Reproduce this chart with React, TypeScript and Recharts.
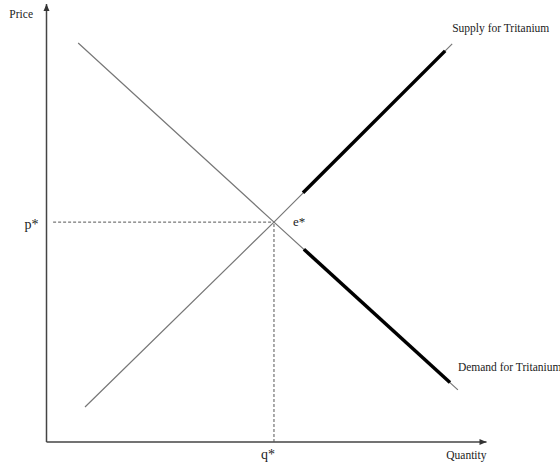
import React from 'react';
import { LineChart, Line, XAxis, YAxis, ReferenceLine, ReferenceDot } from 'recharts';

// demand curve (thin full line + bold part)
const demandQ = [7.2, 51.7, 93.5];
const demandP = [91.1, 50.2, 11.9];
const demandBoldQ = [58.5, 91.7];
const demandBoldP = [44.0, 13.6];

// supply curve
const supplyQ = [8.75, 51.7, 92.2];
const supplyP = [8.0, 50.2, 90.9];
const supplyBoldQ = [58.3, 90.6];
const supplyBoldP = [56.9, 89.3];

// equilibrium
const eqQ = 51.7;
const eqP = 50.2;

const toRows = (q: number[], p: number[]) => q.map((v, i) => ({ q: v, p: p[i] }));

const demand = toRows(demandQ, demandP);
const demandBold = toRows(demandBoldQ, demandBoldP);
const supply = toRows(supplyQ, supplyP);
const supplyBold = toRows(supplyBoldQ, supplyBoldP);

const FONT = '"Liberation Serif", "DejaVu Serif", serif';

const textShape =
  (txt: string, dx: number, dy: number, anchor: 'start' | 'middle' | 'end', size: number) =>
  (props: any) => (
    <text
      x={props.cx + dx}
      y={props.cy + dy}
      textAnchor={anchor}
      fontFamily={FONT}
      fontSize={size}
      fill="#222"
    >
      {txt}
    </text>
  );

const arrowRight = (props: any) => (
  <polygon
    points={`${props.cx},${props.cy} ${props.cx - 7},${props.cy - 3} ${props.cx - 7},${props.cy + 3}`}
    fill="#333"
  />
);

const arrowUp = (props: any) => (
  <polygon
    points={`${props.cx},${props.cy} ${props.cx - 3},${props.cy + 7} ${props.cx + 3},${props.cy + 7}`}
    fill="#333"
  />
);

export default function App() {
  return (
    <div style={{ position: 'absolute', left: 0, top: 0, background: '#fff' }}>
      <LineChart width={560} height={463} margin={{ top: 4, right: 73.5, bottom: 21, left: 46.5 }}>
        <XAxis type="number" dataKey="q" domain={[0, 100]} hide />
        <YAxis type="number" dataKey="p" domain={[0, 100]} hide />

        {/* axes */}
        <ReferenceLine segment={[{ x: 0, y: 0 }, { x: 100, y: 0 }]} stroke="#444" strokeWidth={1.5} ifOverflow="visible" />
        <ReferenceLine segment={[{ x: 0, y: 0 }, { x: 0, y: 100 }]} stroke="#444" strokeWidth={1.5} ifOverflow="visible" />
        <ReferenceDot x={100} y={0} r={0} shape={arrowRight} ifOverflow="visible" />
        <ReferenceDot x={0} y={100} r={0} shape={arrowUp} ifOverflow="visible" />

        {/* equilibrium guides */}
        <ReferenceLine segment={[{ x: 1.5, y: eqP }, { x: eqQ, y: eqP }]} stroke="#555" strokeDasharray="3 2" ifOverflow="visible" />
        <ReferenceLine segment={[{ x: eqQ, y: 0 }, { x: eqQ, y: eqP }]} stroke="#555" strokeDasharray="3 2" ifOverflow="visible" />

        <Line data={demand} dataKey="p" stroke="#777" strokeWidth={1.2} dot={false} isAnimationActive={false} />
        <Line data={supply} dataKey="p" stroke="#777" strokeWidth={1.2} dot={false} isAnimationActive={false} />
        <Line data={demandBold} dataKey="p" stroke="#000" strokeWidth={3.5} dot={false} isAnimationActive={false} />
        <Line data={supplyBold} dataKey="p" stroke="#000" strokeWidth={3.5} dot={false} isAnimationActive={false} />

        {/* labels */}
        <ReferenceDot x={0} y={100} r={0} shape={textShape('Price', -13.5, 14, 'end', 11.5)} ifOverflow="visible" />
        <ReferenceDot x={100} y={0} r={0} shape={textShape('Quantity', 0, 17, 'end', 11.5)} ifOverflow="visible" />
        <ReferenceDot x={0} y={eqP} r={0} shape={textShape('p*', -8, 7, 'end', 14)} ifOverflow="visible" />
        <ReferenceDot x={eqQ} y={0} r={0} shape={textShape('q*', -6, 17, 'middle', 14)} ifOverflow="visible" />
        <ReferenceDot x={eqQ} y={eqP} r={0} shape={textShape('e*', 19, 4, 'start', 13)} ifOverflow="visible" />
        <ReferenceDot x={supplyQ[2]} y={supplyP[2]} r={0} shape={textShape('Supply for Tritanium', 0, -12, 'start', 11.5)} ifOverflow="visible" />
        <ReferenceDot x={demandQ[2]} y={demandP[2]} r={0} shape={textShape('Demand for Tritanium', 0, -19, 'start', 11.5)} ifOverflow="visible" />
      </LineChart>
    </div>
  );
}
